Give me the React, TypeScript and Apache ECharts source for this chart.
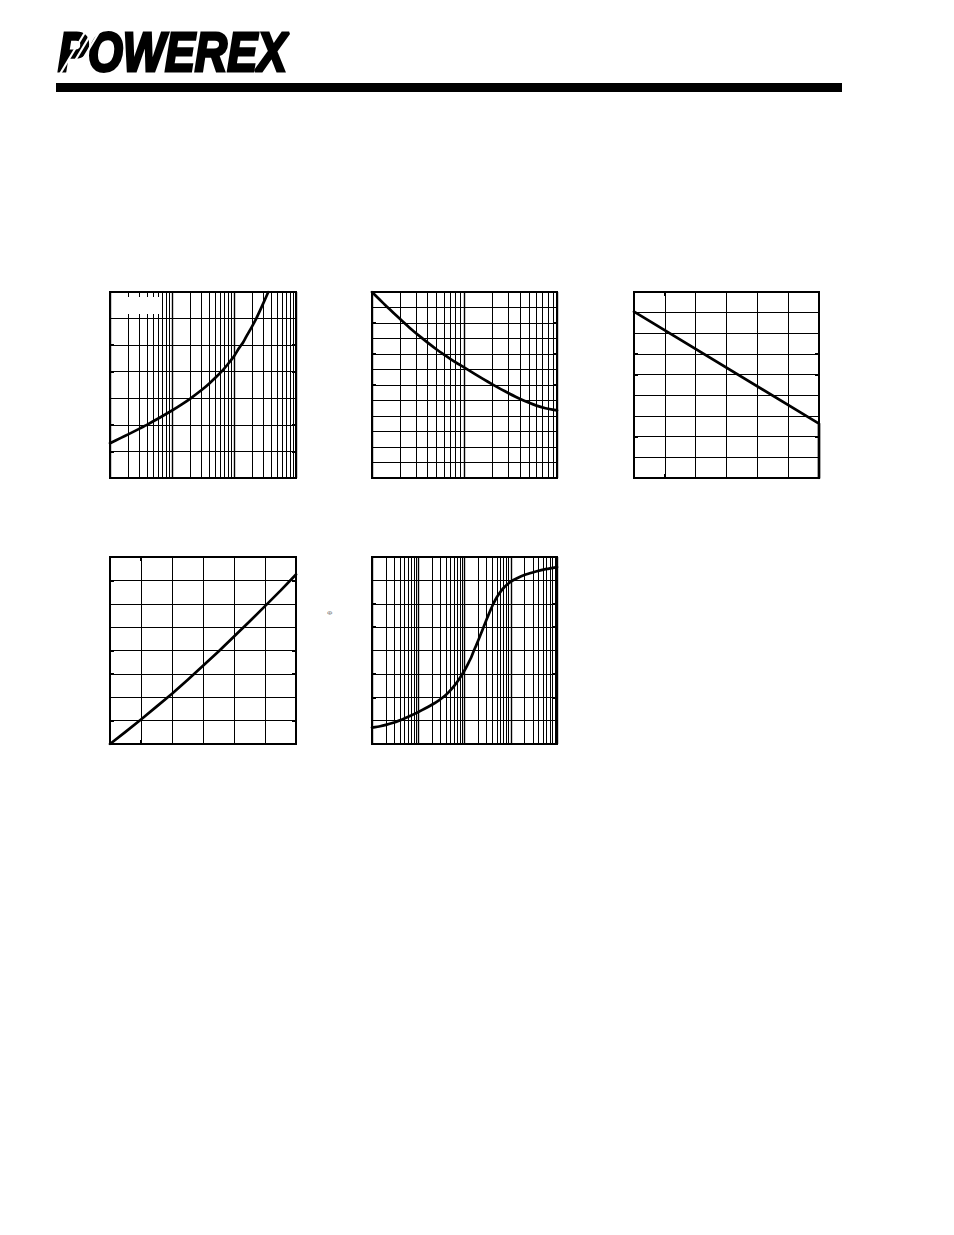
import React, { useEffect, useRef } from "react";
import * as echarts from "echarts";

// ---- data ----
const chart1X = [1, 1.5, 2, 3, 4, 6, 10, 15, 20, 30, 40, 50, 65, 80, 100, 120, 140, 160, 190, 224, 260, 300, 357];
const chart1Y = [1.31, 1.51, 1.65, 1.86, 2.01, 2.24, 2.54, 2.8, 3.0, 3.31, 3.56, 3.77, 4.04, 4.29, 4.58, 4.88, 5.1, 5.35, 5.65, 5.96, 6.28, 6.6, 7.0];

const chart2X = [1, 1.2, 1.44, 1.7, 2, 2.6, 3.4, 4, 5, 6, 7, 8.5, 10, 13, 16, 20, 25, 30, 40, 50, 60, 75, 100];
const chart2Y = [12, 11.53, 11.07, 10.66, 10.27, 9.65, 9.07, 8.73, 8.29, 7.96, 7.69, 7.37, 7.12, 6.7, 6.38, 6.04, 5.72, 5.47, 5.1, 4.85, 4.67, 4.5, 4.36];

const chart3X = [0, 6, 6];
const chart3Y = [8.05, 2.63, 0];

const chart4X = [0, 0.5, 1, 1.5, 2, 2.5, 3, 3.5, 4, 4.5, 5, 5.5, 6];
const chart4Y = [0, 0.52, 1.05, 1.6, 2.15, 2.74, 3.35, 3.96, 4.6, 5.24, 5.9, 6.56, 7.25];

const chart5X = [1, 1.5, 2, 3, 3.85, 5, 7, 9.8, 14, 20.6, 28, 35.5, 45, 60, 75, 88, 105, 120, 140, 156, 180, 200, 230, 255, 290, 320, 360, 418, 460, 520, 631, 750, 984, 1300, 2100, 3500, 6000, 10000];
const chart5Y = [0.7, 0.76, 0.82, 0.92, 1.0, 1.09, 1.22, 1.36, 1.52, 1.7, 1.87, 2.02, 2.21, 2.49, 2.75, 2.96, 3.22, 3.44, 3.71, 3.95, 4.23, 4.45, 4.75, 4.97, 5.25, 5.46, 5.7, 5.99, 6.15, 6.33, 6.57, 6.74, 6.93, 7.07, 7.25, 7.38, 7.49, 7.57];

// tick positions (in grid divisions)
const chart1YTicks = [1, 2, 4, 5];
const chart2YTicks = [6, 8, 10];
const chart3YTicks = [2, 5, 6];
const chart4YTicks = [1, 3, 4, 7];
const chart5YTicks = [2, 3, 5, 6];
const chart3XTicks = [1];
const chart4XTicks = [1];

const pairs = (xs: number[], ys: number[]) => xs.map((x, i) => [x, ys[i]]);

type Spec = {
  box: { left: number; top: number; width: number; height: number };
  logDecades: number; // 0 = linear axis
  xMax: number;
  yMax: number;
  yTicks: number[];
  xTicks: number[];
  data: number[][];
};

const specs: Spec[] = [
  { box: { left: 110, top: 292, width: 186, height: 186 }, logDecades: 3, xMax: 1000, yMax: 7, yTicks: chart1YTicks, xTicks: [], data: pairs(chart1X, chart1Y) },
  { box: { left: 372, top: 292, width: 185, height: 186 }, logDecades: 2, xMax: 100, yMax: 12, yTicks: chart2YTicks, xTicks: [], data: pairs(chart2X, chart2Y) },
  { box: { left: 634, top: 292, width: 185, height: 186 }, logDecades: 0, xMax: 6, yMax: 9, yTicks: chart3YTicks, xTicks: chart3XTicks, data: pairs(chart3X, chart3Y) },
  { box: { left: 110, top: 557, width: 186, height: 187 }, logDecades: 0, xMax: 6, yMax: 8, yTicks: chart4YTicks, xTicks: chart4XTicks, data: pairs(chart4X, chart4Y) },
  { box: { left: 372, top: 557, width: 185, height: 187 }, logDecades: 4, xMax: 10000, yMax: 8, yTicks: chart5YTicks, xTicks: [], data: pairs(chart5X, chart5Y) },
];

function minorLogLines(decades: number): number[] {
  const out: number[] = [];
  for (let d = 0; d < decades; d++) {
    for (let k = 2; k <= 9; k++) out.push(k * Math.pow(10, d));
  }
  return out;
}

const TICK_PX = 4;

function tickSegments(s: Spec): any[] {
  const isLog = s.logDecades > 0;
  const xMin = isLog ? 1 : 0;
  const xIn = isLog ? Math.pow(10, (s.logDecades * TICK_PX) / s.box.width) : (s.xMax * TICK_PX) / s.box.width;
  const xInRight = isLog ? s.xMax / xIn : s.xMax - xIn;
  const yIn = (s.yMax * TICK_PX) / s.box.height;
  const style = { lineStyle: { color: "#000", width: 2, type: "solid" } };
  const segs: any[] = [];
  s.yTicks.forEach((v) => {
    segs.push([{ coord: [xMin, v], ...style }, { coord: [xIn, v] }]);
    segs.push([{ coord: [s.xMax, v], ...style }, { coord: [xInRight, v] }]);
  });
  s.xTicks.forEach((v) => {
    segs.push([{ coord: [v, 0], ...style }, { coord: [v, yIn] }]);
    segs.push([{ coord: [v, s.yMax], ...style }, { coord: [v, s.yMax - yIn] }]);
  });
  return segs;
}

function buildOption() {
  const grid: any[] = [];
  const xAxis: any[] = [];
  const yAxis: any[] = [];
  const series: any[] = [];

  specs.forEach((s, i) => {
    grid.push({
      ...s.box,
      show: true,
      borderColor: "#000",
      borderWidth: 2,
      backgroundColor: "transparent",
      containLabel: false,
    });
    const isLog = s.logDecades > 0;
    xAxis.push(
      isLog
        ? {
            type: "log",
            logBase: 10,
            min: 1,
            max: s.xMax,
            gridIndex: i,
            axisLabel: { show: false },
            axisLine: { show: false, onZero: false },
            axisTick: { show: false },
            splitLine: { show: true, lineStyle: { color: "#000", width: 1.4 } },
          }
        : {
            type: "value",
            min: 0,
            max: s.xMax,
            interval: 1,
            gridIndex: i,
            axisLabel: { show: false },
            axisLine: { show: false, onZero: false },
            axisTick: { show: false },
            splitLine: { show: true, lineStyle: { color: "#000", width: 1 } },
          }
    );
    yAxis.push({
      type: "value",
      min: 0,
      max: s.yMax,
      interval: 1,
      gridIndex: i,
      axisLabel: { show: false },
      axisLine: { show: false, onZero: false },
      axisTick: { show: false },
      splitLine: { show: true, lineStyle: { color: "#000", width: 1 } },
    });

    const minor = isLog ? minorLogLines(s.logDecades).map((v) => ({ xAxis: v })) : [];

    series.push({
      type: "line",
      xAxisIndex: i,
      yAxisIndex: i,
      data: s.data,
      showSymbol: false,
      smooth: isLog ? 0.15 : false,
      lineStyle: { color: "#000", width: 2.7, join: "round", cap: "round" },
      silent: true,
      z: 5,
      markLine: {
        silent: true,
        symbol: ["none", "none"],
        label: { show: false },
        lineStyle: { color: "#000", width: 1, type: "solid" },
        emphasis: { disabled: true },
        data: [...minor, ...tickSegments(s)],
      },
    });
  });

  // white stripes cut through the logo's P
  const stripes = [60, 67, 74].map((x0) => ({
    type: "line",
    z: 20,
    shape: { x1: x0, y1: 74, x2: x0 + 27, y2: 29 },
    style: { stroke: "#fff", lineWidth: 2.2 },
  }));

  const graphic: any[] = [
    {
      type: "text",
      x: 58,
      y: 80,
      scaleX: 0.8,
      z: 10,
      style: {
        text: "POWEREX",
        fontSize: 56,
        fontWeight: "bold",
        fontStyle: "italic",
        fontFamily: "'Liberation Sans', Arial, sans-serif",
        fill: "#000",
        stroke: "#000",
        lineWidth: 3,
        textVerticalAlign: "bottom",
        textAlign: "left",
      },
    },
    ...stripes,
    { type: "rect", z: 25, shape: { x: 56, y: 83, width: 786, height: 9 }, style: { fill: "#000" } },
    { type: "rect", z: 30, shape: { x: 121, y: 297, width: 39, height: 17 }, style: { fill: "#fff" } },
    {
      type: "text",
      x: 329.5,
      y: 613,
      rotation: Math.PI / 2,
      z: 10,
      style: { text: "θ", fontSize: 6, fill: "#666", textAlign: "center", textVerticalAlign: "middle", fontFamily: "DejaVu Sans" },
    },
  ];

  return {
    animation: false,
    backgroundColor: "#fff",
    grid,
    xAxis,
    yAxis,
    series,
    graphic,
  };
}

export default function App() {
  const ref = useRef<HTMLDivElement>(null);
  useEffect(() => {
    if (!ref.current) return;
    const chart = echarts.init(ref.current, undefined, { renderer: "svg" });
    chart.setOption(buildOption() as any);
    return () => chart.dispose();
  }, []);
  return (
    <div
      ref={ref}
      style={{ position: "absolute", left: 0, top: 0, width: 954, height: 1235, background: "#fff" }}
    />
  );
}
